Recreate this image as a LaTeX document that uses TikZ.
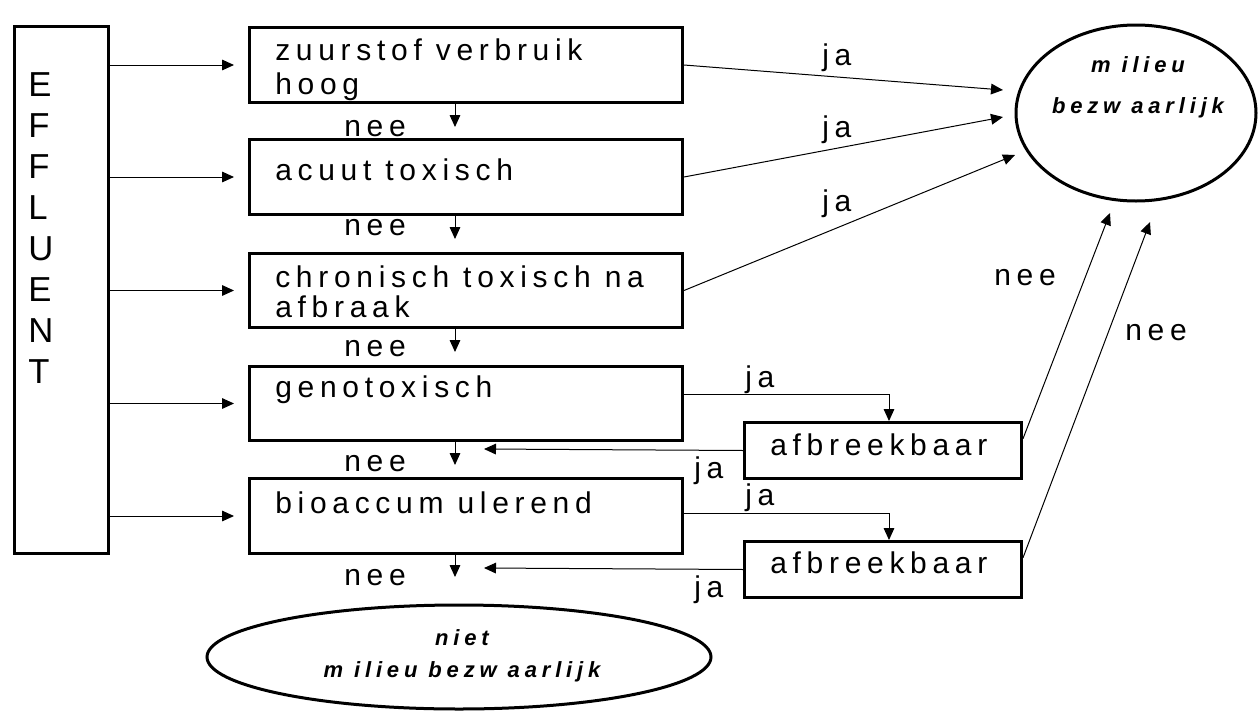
\documentclass[tikz,border=0pt]{standalone}
\usepackage{fontspec}
\setmainfont{Liberation Sans}
\newfontfamily\spfont[LetterSpace=19]{Liberation Sans}
\newfontfamily\ovspfont[LetterSpace=22]{Liberation Sans}
\newfontfamily\plainfont{Liberation Sans}
\usetikzlibrary{arrows.meta,shapes.geometric,calc}
\newcommand{\boxfnt}{\spfont\fontsize{22.5}{22.5}\selectfont}
\newcommand{\ovfnt}{\ovspfont\bfseries\itshape\fontsize{16.5}{30.75}\selectfont}
\newcommand{\efffnt}{\plainfont\fontsize{26}{30.75}\selectfont}
\begin{document}
\begin{tikzpicture}[x=0.75pt,y=-0.75pt,
  box/.style={draw, line width=2.25pt, rectangle, inner sep=0pt, anchor=north west},
  txt/.style={anchor=base west, inner sep=0pt, align=left, font=\boxfnt},
  conn/.style={line width=0.75pt},
  arr/.style={conn, -{Triangle[length=9pt,width=8pt]}},
  oval/.style={draw, line width=2.25pt, ellipse, inner sep=0pt},
  ovtxt/.style={anchor=base, inner sep=0pt, align=center, font=\ovfnt},
]
\useasboundingbox (0,0) rectangle (1258,711);

% boxes
\node[box, minimum width=70.5pt, minimum height=395.25pt] (eff) at (13,25) {};
\node[box, minimum width=324.75pt, minimum height=56.25pt] (z) at (248,26) {};
\node[box, minimum width=324.75pt, minimum height=56.25pt] (a) at (248,138) {};
\node[box, minimum width=324.75pt, minimum height=55.5pt] (c) at (248,252) {};
\node[box, minimum width=324.75pt, minimum height=55.5pt] (g) at (248,365) {};
\node[box, minimum width=324.75pt, minimum height=56.25pt] (b) at (248,477) {};
\node[box, minimum width=207.75pt, minimum height=42pt] (af1) at (743,421) {};
\node[box, minimum width=207.75pt, minimum height=42pt] (af2) at (743,540) {};

% ovals
\node[oval, minimum width=180pt, minimum height=132pt] (mb) at (1136,113) {};
\node[oval, minimum width=378pt, minimum height=78pt] (nm) at (459,657) {};

% texts (base anchor = last line's baseline)
\node[anchor=north west, inner sep=0pt, align=left, font=\efffnt] (efft) at (28,72.5) {E\\F\\F\\L\\U\\E\\N\\T};
\node[txt] (tz) at (275,94) {zuurstof verbruik\\[3pt]hoog};
\node[txt] (ta) at (275,180) {acuut toxisch};
\node[txt] (tc) at (275,317) {chronisch toxisch na\\afbraak};
\node[txt] (tg) at (275,397) {genotoxisch};
\node[txt] (tb) at (275,513) {bioaccum ulerend};
\node[txt] (taf1) at (770,455) {afbreekbaar};
\node[txt] (taf2) at (770,573) {afbreekbaar};
\node[ovtxt] (tmb) at (1138,113) {m ilieu\\bezw aarlijk};
\node[ovtxt, font=\ovspfont\bfseries\itshape\fontsize{16.5}{24}\selectfont] (tnm) at (462,677) {niet\\m ilieu  bezw aarlijk};

% labels
\node[txt] (n1) at (344,136) {nee};
\node[txt] (n2) at (344,235) {nee};
\node[txt] (n3) at (344,356) {nee};
\node[txt] (n4) at (344,471) {nee};
\node[txt] (n5) at (344,585) {nee};
\node[txt] (j1l) at (822,65) {ja};
\node[txt] (j2l) at (822,137) {ja};
\node[txt] (j3l) at (822,211) {ja};
\node[txt] (j4l) at (745,387) {ja};
\node[txt] (j5l) at (694,478) {ja};
\node[txt] (j6l) at (745,505) {ja};
\node[txt] (j7l) at (694,597) {ja};
\node[txt] (n6) at (994,285) {nee};
\node[txt] (n7) at (1125,340) {nee};

% effluent arrows
\foreach \t in {z,a,c,g,b}
  \draw[arr, shorten >=10.5pt] (eff.east |- \t.west) -- (\t.west);

% down arrows
\coordinate (d1) at (455,127);
\coordinate (d2) at (455,239);
\coordinate (d3) at (455,352);
\coordinate (d4) at (455,465);
\coordinate (d5) at (455,577);
\draw[arr] (z.south -| d1) -- (d1);
\draw[arr] (a.south -| d2) -- (d2);
\draw[arr] (c.south -| d3) -- (d3);
\draw[arr] (g.south -| d4) -- (d4);
\draw[arr] (b.south -| d5) -- (d5);

% ja arrows to milieu bezwaarlijk
\coordinate (p1) at (1003,90);
\coordinate (p2) at (1003,117);
\coordinate (p3) at (1015,155);
\draw[arr] (z.east) -- (p1);
\draw[arr] (a.east) -- (p2);
\draw[arr] (c.east) -- (p3);

% to afbreekbaar
\draw[arr] ($(g.north east)!0.38!(g.south east)$) -| ([xshift=4.5pt]af1.north);
\draw[arr] ($(b.north east)!0.47!(b.south east)$) -| ([xshift=4.5pt]af2.north);

% afbreekbaar back (ja)
\coordinate (l1) at (484,449);
\coordinate (l2) at (484,568);
\draw[arr] (af1.west) -- (l1);
\draw[arr] (af2.west) -- (l2);

% afbreekbaar nee up
\coordinate (u1) at (1110,213);
\coordinate (u2) at (1150,222);
\draw[arr] ($(af1.north east)!0.3!(af1.south east)$) -- (u1);
\draw[arr] ($(af2.north east)!0.3!(af2.south east)$) -- (u2);
\end{tikzpicture}
\end{document}
